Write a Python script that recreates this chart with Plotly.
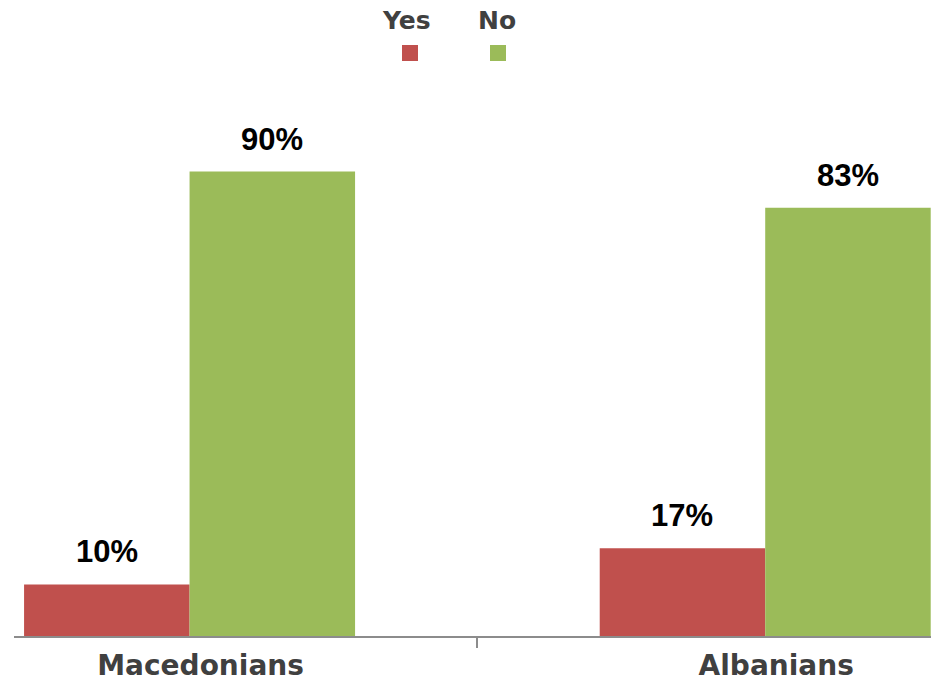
import plotly.graph_objects as go

categories = ["Macedonians", "Albanians"]
series_names = ["Yes", "No"]
yes_values = [10, 17]
no_values = [90, 83]
label_suffix = "%"

colors = {"Yes": "#C0504D", "No": "#9BBB59"}
series_values = {"Yes": yes_values, "No": no_values}

BARGAP = 0.425
W, H = 931, 682
ML, MR, MT, MB = 14, 0, 80, 46
PX_PER_UNIT = 5.16
plot_h = H - MT - MB
y_max = plot_h / PX_PER_UNIT

fig = go.Figure()
for name in series_names:
    fig.add_trace(go.Bar(
        x=categories, y=series_values[name], name=name,
        marker=dict(color=colors[name], line=dict(width=0)),
        showlegend=False,
    ))

# data labels
half = (1 - BARGAP) / 4
for k, name in enumerate(series_names):
    off = -half if k == 0 else half
    for i, v in enumerate(series_values[name]):
        fig.add_annotation(
            x=i + off, y=v, xref="x", yref="y",
            text=f"{v}{label_suffix}", showarrow=False,
            yanchor="bottom", yshift=13,
            font=dict(family="Liberation Sans", size=31, color="#000000", weight="bold"),
        )

# custom legend (text above, square below)
plot_w = W - ML - MR
def px2paper_x(px):
    return (px - ML) / plot_w
def px2paper_y(py):
    return (H - MB - py) / plot_h

legend_text_x = {"Yes": 406, "No": 497}
legend_sq_x = {"Yes": 410, "No": 498}
for name in series_names:
    fig.add_annotation(
        x=px2paper_x(legend_text_x[name]), y=px2paper_y(20), xref="paper", yref="paper",
        text=name, showarrow=False, xanchor="center", yanchor="middle",
        font=dict(family="DejaVu Sans", size=25, color="#404040", weight="bold"),
    )
    cx = legend_sq_x[name]
    fig.add_shape(
        type="rect", xref="paper", yref="paper",
        x0=px2paper_x(cx - 8), x1=px2paper_x(cx + 8),
        y0=px2paper_y(61), y1=px2paper_y(45),
        fillcolor=colors[name], line=dict(width=0),
    )

fig.update_layout(
    width=W, height=H,
    margin=dict(l=ML, r=MR, t=MT, b=MB, pad=0),
    barmode="group", bargap=BARGAP, bargroupgap=0,
    plot_bgcolor="white", paper_bgcolor="white",
    showlegend=False,
)
fig.update_xaxes(
    range=[-0.305, 1.288],
    showline=True, linecolor="#8c8c8c", linewidth=2,
    ticks="outside", tickson="boundaries", ticklen=10, tickcolor="#8c8c8c", tickwidth=1.5,
    showgrid=False, zeroline=False,
    tickfont=dict(family="DejaVu Sans", size=28, color="#404040", weight="bold"),
    ticklabelshift=11, ticklabelstandoff=3,
)
fig.update_yaxes(range=[0, y_max], visible=False)

fig.write_html(
    "out.html",
    config={"displayModeBar": False},
    post_script="document.body.style.margin='0';document.body.style.overflow='hidden';",
)
